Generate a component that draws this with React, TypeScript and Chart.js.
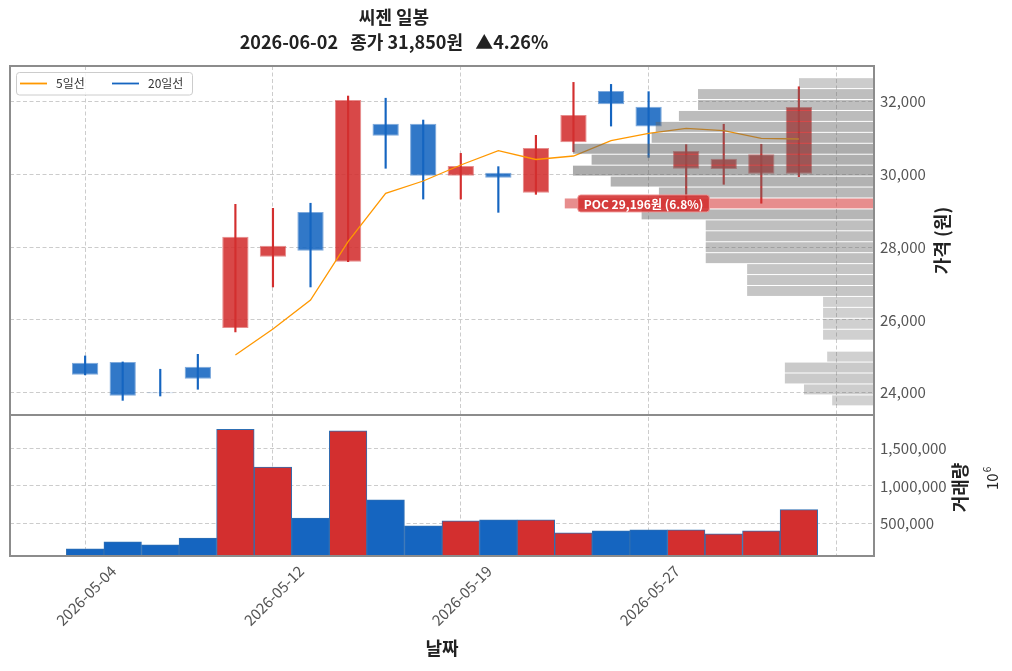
import React, { useEffect, useRef } from 'react';
import { Chart, registerables } from 'chart.js';

Chart.register(...registerables);

const FONT = "'Noto Sans CJK KR', 'Noto Sans', sans-serif";

const TITLE = '씨젠 일봉';
const SUBTITLE = '2026-06-02   종가 31,850원   ▲4.26%';

const DATES = [
  '2026-05-04', '2026-05-06', '2026-05-07', '2026-05-08', '2026-05-11',
  '2026-05-12', '2026-05-13', '2026-05-14', '2026-05-15', '2026-05-18',
  '2026-05-19', '2026-05-20', '2026-05-21', '2026-05-22', '2026-05-26',
  '2026-05-27', '2026-05-28', '2026-05-29', '2026-06-01', '2026-06-02',
];
const OPEN = [24825, 24845, 24005, 24715, 25780, 27735, 28965, 27600, 31390, 31390, 29960, 30045, 29495, 30880, 32290, 31855, 30155, 30145, 30015, 30015];
const HIGH = [25010, 24845, 24645, 25055, 29175, 29065, 29205, 32150, 32090, 31490, 30575, 30210, 31070, 32525, 32470, 32270, 30815, 31375, 30825, 32405];
const LOW = [24490, 23790, 23910, 24095, 25670, 26905, 26905, 27600, 30165, 29320, 29320, 28955, 29450, 30620, 31325, 30465, 29020, 29725, 29205, 29935];
const CLOSE = [24495, 23920, 23985, 24385, 28285, 28040, 27900, 32040, 31060, 29960, 30230, 29905, 30725, 31630, 31925, 31310, 30640, 30430, 30550, 31850];
const VOLUME = [153000, 247000, 207000, 297000, 1757000, 1251000, 568000, 1738000, 811000, 464000, 531000, 545000, 545000, 369000, 396000, 410000, 410000, 355000, 396000, 680000];
const MA5 = [null, null, null, null, 25036, 25750, 26547, 28149, 29478, 29816, 30256, 30648, 30407, 30503, 30923, 31126, 31264, 31198, 30989, 30970];
const MA20: (number | null)[] = [];

const PRICE_TICKS = [24000, 26000, 28000, 30000, 32000];
const VOLUME_TICKS = [500000, 1000000, 1500000];
const X_TICKS = [0, 5, 10, 15, 20];

// volume profile, bins from bottom to top, share of volume in %
const PROFILE_LOW = 23640;
const PROFILE_STEP = 300.5;
const PROFILE_PCT = [
  0.92, 1.54, 1.96, 1.96, 1.03, 0, 1.12, 1.12, 1.12, 1.12,
  2.79, 2.79, 2.79, 3.7, 3.7, 3.7, 3.7, 5.11, 6.8, 4.73,
  5.79, 6.62, 6.21, 6.62, 4.89, 4.8, 4.29, 3.87, 3.87, 1.65,
];
const POC_PRICE = 29196;
const POC_PCT = 6.8;

const UP = '#d32f2f';
const DOWN = '#1565c0';
const UP_FILL = 'rgba(211,47,47,0.88)';
const DOWN_FILL = 'rgba(21,101,192,0.88)';
const UP_EDGE = 'rgba(211,47,47,0.55)';
const DOWN_EDGE = 'rgba(21,101,192,0.55)';

const isUp = (i: number) => CLOSE[i] >= OPEN[i];

function roundRect(ctx: CanvasRenderingContext2D, x: number, y: number, w: number, h: number, r: number) {
  ctx.beginPath();
  ctx.moveTo(x + r, y);
  ctx.lineTo(x + w - r, y);
  ctx.arcTo(x + w, y, x + w, y + r, r);
  ctx.lineTo(x + w, y + h - r);
  ctx.arcTo(x + w, y + h, x + w - r, y + h, r);
  ctx.lineTo(x + r, y + h);
  ctx.arcTo(x, y + h, x, y + h - r, r);
  ctx.lineTo(x, y + r);
  ctx.arcTo(x, y, x + r, y, r);
  ctx.closePath();
}

const overlayPlugin = {
  id: 'overlay',
  afterDatasetsDraw(chart: any) {
    const { ctx, chartArea, scales } = chart;
    const y = scales.y;
    const xp = scales.xp;
    ctx.save();
    ctx.beginPath();
    ctx.rect(chartArea.left, y.top, chartArea.right - chartArea.left, y.bottom - y.top);
    ctx.clip();
    const maxPct = Math.max(...PROFILE_PCT);
    let pocBox: any = null;
    PROFILE_PCT.forEach((pct, i) => {
      if (pct <= 0) return;
      const lo = PROFILE_LOW + i * PROFILE_STEP;
      const hi = lo + PROFILE_STEP;
      const yTop = y.getPixelForValue(hi) + 0.5;
      const yBot = y.getPixelForValue(lo) - 0.5;
      const xL = xp.getPixelForValue(pct);
      const xR = xp.getPixelForValue(0);
      const isPoc = pct === maxPct;
      ctx.fillStyle = isPoc
        ? 'rgba(211,47,47,0.55)'
        : `rgba(100,100,100,${0.26 + 0.28 * pct / maxPct})`;
      ctx.fillRect(xL, yTop, xR - xL, yBot - yTop);
      if (isPoc) pocBox = { xL, yc: (yTop + yBot) / 2 };
    });
    if (pocBox) {
      const label = `POC ${POC_PRICE.toLocaleString('en-US')}원 (${POC_PCT}%)`;
      ctx.font = `bold 12px ${FONT}`;
      const tw = ctx.measureText(label).width;
      const bx = pocBox.xL + 13;
      const bw = tw + 12;
      const bh = 17;
      const by = pocBox.yc - bh / 2;
      roundRect(ctx, bx, by, bw, bh, 3);
      ctx.fillStyle = 'rgba(211,47,47,0.88)';
      ctx.fill();
      ctx.strokeStyle = 'rgba(240,150,150,0.9)';
      ctx.lineWidth = 1;
      ctx.stroke();
      ctx.fillStyle = '#ffffff';
      ctx.textAlign = 'center';
      ctx.textBaseline = 'middle';
      ctx.fillText(label, bx + bw / 2, pocBox.yc + 0.5);
    }
    ctx.restore();
  },
  afterDraw(chart: any) {
    const { ctx, chartArea, scales } = chart;
    const y = scales.y;
    const yv = scales.yv;
    const x = scales.x;
    const w = chartArea.right - chartArea.left;
    ctx.save();

    // frames
    ctx.strokeStyle = '#8c8c8c';
    ctx.lineWidth = 2;
    ctx.strokeRect(chartArea.left, y.top, w, y.bottom - y.top);
    ctx.strokeRect(chartArea.left, yv.top, w, yv.bottom - yv.top);

    // legend
    const lines = chart.data.datasets.filter((d: any) => d.type === 'line');
    roundRect(ctx, chartArea.left + 6.5, y.top + 6.5, 176, 22.5, 3);
    ctx.fillStyle = 'rgba(255,255,255,0.85)';
    ctx.fill();
    ctx.strokeStyle = '#cccccc';
    ctx.lineWidth = 1;
    ctx.stroke();
    ctx.font = `12px ${FONT}`;
    ctx.textAlign = 'left';
    ctx.textBaseline = 'middle';
    let lx = chartArea.left + 10;
    const ly = y.top + 17.5;
    lines.forEach((d: any) => {
      ctx.strokeStyle = d.borderColor;
      ctx.lineWidth = 1.8;
      ctx.beginPath();
      ctx.moveTo(lx, ly);
      ctx.lineTo(lx + 27, ly);
      ctx.stroke();
      ctx.fillStyle = '#333333';
      ctx.fillText(d.label, lx + 36, ly);
      lx += 92;
    });

    // title
    ctx.fillStyle = '#222222';
    ctx.textAlign = 'center';
    ctx.textBaseline = 'middle';
    ctx.font = `bold 18px ${FONT}`;
    ctx.fillText(TITLE, 394, 17);
    ctx.fillText(SUBTITLE, 394, 42);

    // x tick labels (rotated, bbox centred on tick)
    ctx.font = `15px ${FONT}`;
    ctx.fillStyle = '#555555';
    X_TICKS.forEach((t) => {
      const label = DATES[t];
      if (!label) return;
      const px = x.getPixelForValue(t);
      const L = ctx.measureText(label).width;
      const half = (L + 15) / (2 * Math.SQRT2);
      ctx.save();
      ctx.translate(px + 1, chartArea.bottom + 7 + half);
      ctx.rotate(-Math.PI / 4);
      ctx.textAlign = 'center';
      ctx.textBaseline = 'middle';
      ctx.fillText(label, 0, 0);
      ctx.restore();
    });

    // axis titles
    ctx.fillStyle = '#222222';
    ctx.font = `bold 18px ${FONT}`;
    ctx.textAlign = 'center';
    ctx.textBaseline = 'middle';
    ctx.fillText('날짜', (chartArea.left + chartArea.right) / 2, 648);

    const vtext = (text: string, cx: number, cy: number) => {
      ctx.save();
      ctx.translate(cx, cy);
      ctx.rotate(-Math.PI / 2);
      ctx.fillText(text, 0, 0);
      ctx.restore();
    };
    vtext('가격 (원)', chartArea.right + 68, (y.top + y.bottom) / 2);
    vtext('거래량', chartArea.right + 86, (yv.top + yv.bottom) / 2 + 2);

    // offset text 10^6
    ctx.font = `15px ${FONT}`;
    ctx.save();
    ctx.translate(chartArea.right + 118, yv.top + 63);
    ctx.rotate(-Math.PI / 2);
    ctx.textAlign = 'left';
    ctx.fillText('10', -12, 0);
    const tw = ctx.measureText('10').width;
    ctx.font = `10px ${FONT}`;
    ctx.fillText('6', -12 + tw + 1, -5);
    ctx.restore();

    ctx.restore();
  },
};

export default function App() {
  const ref = useRef<HTMLCanvasElement>(null);
  useEffect(() => {
    Chart.defaults.font.family = FONT;
    const gridStyle = { color: '#cccccc', lineWidth: 1, drawTicks: false, offset: false };
    const borderStyle = { display: false, dash: [4, 2.5] };
    const chart = new Chart(ref.current as HTMLCanvasElement, {
      type: 'bar',
      data: {
        datasets: [
          {
            type: 'line',
            label: '5일선',
            data: MA5.map((v, i) => (v == null ? null : { x: i, y: v })).filter(Boolean) as any,
            borderColor: '#ff9800',
            backgroundColor: '#ff9800',
            borderWidth: 1.3,
            pointRadius: 0,
            xAxisID: 'x',
            yAxisID: 'y',
            order: 0,
          },
          {
            type: 'line',
            label: '20일선',
            data: MA20.map((v, i) => (v == null ? null : { x: i, y: v })).filter(Boolean) as any,
            borderColor: '#1565c0',
            backgroundColor: '#1565c0',
            borderWidth: 1.3,
            pointRadius: 0,
            xAxisID: 'x',
            yAxisID: 'y',
            order: 0,
          },
          {
            type: 'bar',
            label: 'body',
            data: DATES.map((_, i) => ({ x: i, y: [OPEN[i], CLOSE[i]] })) as any,
            backgroundColor: DATES.map((_, i) => (isUp(i) ? UP_FILL : DOWN_FILL)),
            borderColor: DATES.map((_, i) => (isUp(i) ? UP_EDGE : DOWN_EDGE)),
            borderWidth: 1,
            borderSkipped: false,
            barPercentage: 0.7,
            categoryPercentage: 1,
            grouped: false,
            xAxisID: 'x',
            yAxisID: 'y',
            order: 1,
          },
          {
            type: 'bar',
            label: 'wick',
            data: DATES.map((_, i) => ({ x: i, y: [LOW[i], HIGH[i]] })) as any,
            backgroundColor: DATES.map((_, i) => (isUp(i) ? UP : DOWN)),
            barThickness: 1.5,
            grouped: false,
            xAxisID: 'x',
            yAxisID: 'y',
            order: 2,
          },
          {
            type: 'bar',
            label: '거래량',
            data: DATES.map((_, i) => ({ x: i, y: VOLUME[i] })) as any,
            backgroundColor: DATES.map((_, i) => (isUp(i) ? UP : DOWN)),
            borderColor: '#2f6fb3',
            borderWidth: 1,
            barPercentage: 1,
            categoryPercentage: 1,
            grouped: false,
            xAxisID: 'x',
            yAxisID: 'yv',
            order: 3,
          },
        ],
      },
      options: {
        animation: false,
        responsive: false,
        devicePixelRatio: 1,
        events: [],
        layout: { padding: { left: 10, top: 66, right: 0, bottom: 0 } },
        plugins: {
          legend: { display: false },
          tooltip: { enabled: false },
          title: { display: false },
        },
        scales: {
          x: {
            type: 'linear',
            position: 'bottom',
            min: -2,
            max: 21,
            offset: false,
            grid: gridStyle,
            border: borderStyle,
            ticks: { display: false },
            afterBuildTicks: (s: any) => {
              s.ticks = X_TICKS.map((v) => ({ value: v }));
            },
            afterFit: (s: any) => {
              s.height = 115;
            },
          },
          xp: {
            type: 'linear',
            position: 'top',
            display: true,
            min: 0,
            max: 19,
            reverse: true,
            offset: false,
            grid: { display: false, drawTicks: false },
            border: { display: false },
            ticks: { display: false },
            afterFit: (s: any) => {
              s.height = 0;
            },
          },
          y: {
            type: 'linear',
            position: 'right',
            stack: 'panels',
            stackWeight: 349,
            min: 23388,
            max: 32975,
            grid: gridStyle,
            border: borderStyle,
            ticks: {
              color: '#555555',
              font: { size: 15 },
              padding: 6,
              callback: (v: any) => Number(v).toLocaleString('en-US'),
            },
            afterBuildTicks: (s: any) => {
              s.ticks = PRICE_TICKS.map((v) => ({ value: v }));
            },
            afterFit: (s: any) => {
              s.width = 138;
            },
          },
          yv: {
            type: 'linear',
            position: 'right',
            stack: 'panels',
            stackWeight: 141,
            min: 58000,
            max: 1950000,
            grid: gridStyle,
            border: borderStyle,
            ticks: {
              color: '#555555',
              font: { size: 15 },
              padding: 6,
              callback: (v: any) => Number(v).toLocaleString('en-US'),
            },
            afterBuildTicks: (s: any) => {
              s.ticks = VOLUME_TICKS.map((v) => ({ value: v }));
            },
            afterFit: (s: any) => {
              s.width = 138;
            },
          },
        } as any,
      },
      plugins: [overlayPlugin],
    } as any);
    return () => chart.destroy();
  }, []);

  return (
    <div style={{ position: 'absolute', left: 0, top: 0, width: 1012, height: 671, background: '#ffffff' }}>
      <canvas ref={ref} width={1012} height={671} style={{ display: 'block', width: 1012, height: 671 }} />
    </div>
  );
}
